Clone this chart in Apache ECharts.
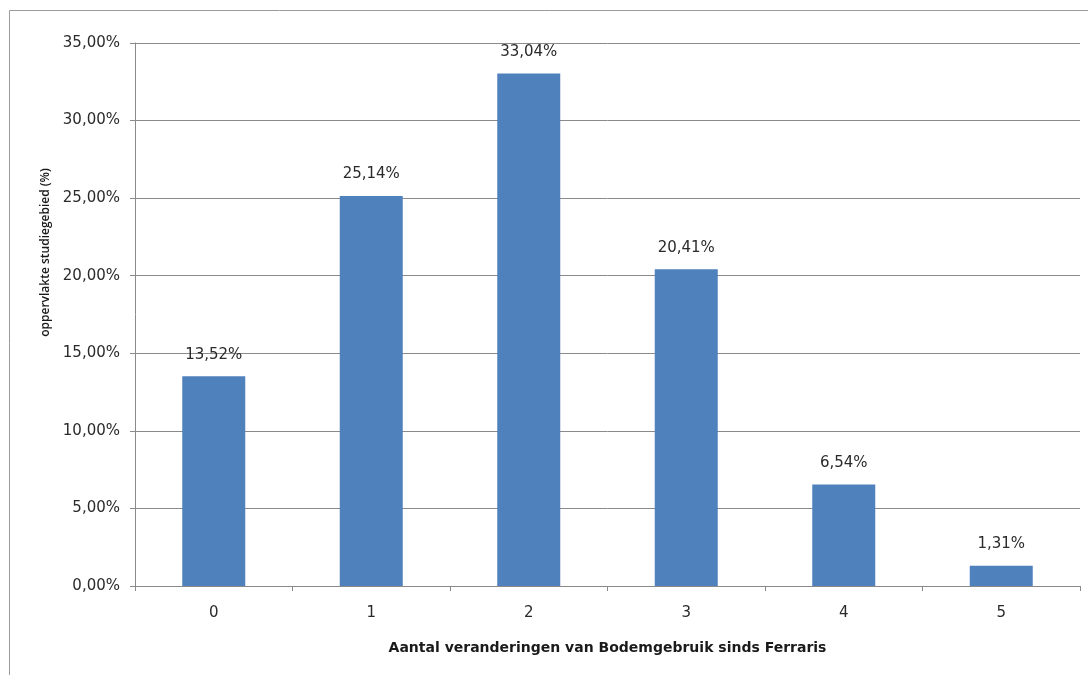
<!DOCTYPE html>
<html>
<head>
<meta charset="utf-8">
<script src="https://cdn.jsdelivr.net/npm/echarts@6/dist/echarts.min.js"></script>
<style>
  html, body { margin: 0; padding: 0; background: #fff; }
  #chart { width: 1088px; height: 675px; }
</style>
</head>
<body>
<div id="chart"></div>
<script>
// categorieën en waarden (percentages)
const categories = ['0', '1', '2', '3', '4', '5'];
const values = [13.52, 25.14, 33.04, 20.41, 6.54, 1.31];
const yTicks = { min: 0, max: 35, interval: 5 };

const xName = 'Aantal veranderingen van Bodemgebruik sinds Ferraris';
const yName = 'oppervlakte studiegebied (%)';

const fmt = (v, d) => v.toFixed(d).replace('.', ',') + '%';
const font = "'DejaVu Sans', sans-serif";
const lineGray = '#8a8a8a';
const textColor = '#2a2a2a';

const chart = echarts.init(document.getElementById('chart'));
chart.setOption({
  animation: false,
  graphic: [{
    type: 'rect',
    shape: { x: 9.5, y: 10.5, width: 1200, height: 800 },
    style: { fill: 'none', stroke: '#9a9a9a', lineWidth: 1 },
    silent: true
  }],
  grid: { left: 135, right: 8, top: 43, bottom: 89 },
  xAxis: {
    type: 'category',
    data: categories,
    name: xName,
    nameLocation: 'middle',
    nameGap: 55,
    nameTextStyle: { fontFamily: font, fontSize: 14, fontWeight: 'bold', color: '#1a1a1a' },
    axisLine: { lineStyle: { color: lineGray } },
    axisTick: { show: true, length: 5, lineStyle: { color: lineGray } },
    axisLabel: { fontFamily: font, fontSize: 15, color: textColor, margin: 20 }
  },
  yAxis: {
    type: 'value',
    min: yTicks.min,
    max: yTicks.max,
    interval: yTicks.interval,
    name: yName,
    nameLocation: 'middle',
    nameGap: 83,
    nameRotate: 90,
    nameTextStyle: {
      fontFamily: "'Open Sans', sans-serif", fontSize: 12, fontWeight: 600,
      color: '#1a1a1a', padding: [0, 0, 0, 124]
    },
    axisLine: { show: true, lineStyle: { color: lineGray } },
    axisTick: { show: true, length: 5, lineStyle: { color: lineGray } },
    axisLabel: {
      fontFamily: font, fontSize: 15, color: textColor, margin: 15,
      formatter: v => fmt(v, 2)
    },
    splitLine: { lineStyle: { color: lineGray, width: 1 } }
  },
  series: [{
    type: 'bar',
    data: values,
    barCategoryGap: '60%',
    itemStyle: { color: '#4f81bd' },
    label: {
      show: true,
      position: 'top',
      distance: 14,
      fontFamily: font,
      fontSize: 15,
      color: textColor,
      formatter: p => fmt(p.value, 2)
    }
  }]
});
</script>
</body>
</html>
